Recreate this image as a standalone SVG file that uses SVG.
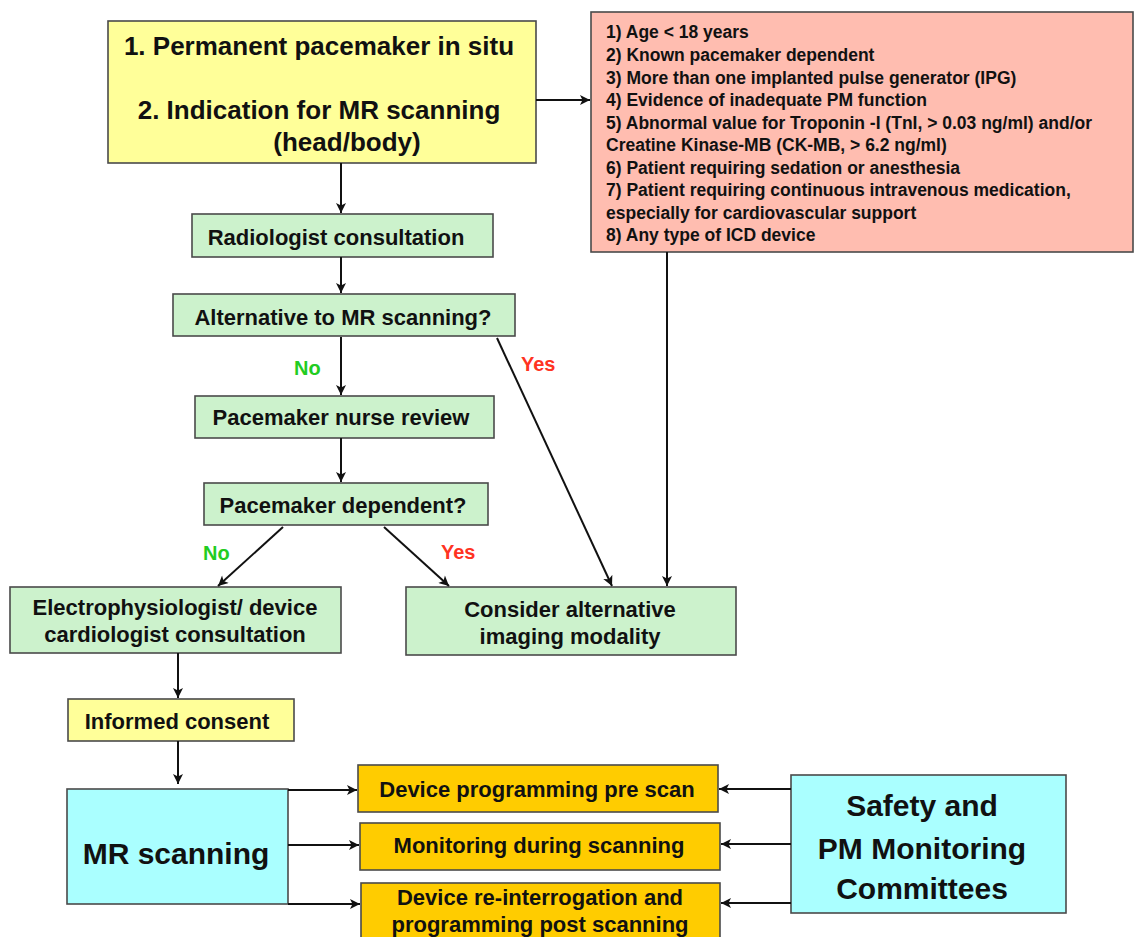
<svg xmlns="http://www.w3.org/2000/svg" width="1134" height="937" viewBox="0 0 1134 937">
<defs>
<marker id="ah" viewBox="0 0 10 10" refX="10" refY="5" markerWidth="11" markerHeight="10" markerUnits="userSpaceOnUse" orient="auto">
<path d="M0,0 L10,5 L0,10 L2.5,5 z" fill="#111"/>
</marker>
</defs>
<style>
.box{stroke:#4a4a4a;stroke-width:1.6}
.y{fill:#ffff99}
.g{fill:#ccf2cc}
.p{fill:#ffbdb0}
.c{fill:#aaffff}
.o{fill:#ffcc00}
text{font-family:"Liberation Sans",Arial,sans-serif;font-weight:bold;fill:#111}
.t25{font-size:26px;text-anchor:middle}
.t21{font-size:22px;text-anchor:middle}
.t30{font-size:30px;text-anchor:middle}
.t15{font-size:17.5px}
.lbl{font-size:20px;font-weight:bold}
.conn line{stroke:#111;stroke-width:2;marker-end:url(#ah)}
</style>
<rect width="1134" height="937" fill="#fff"/>

<g id="n-start">
<rect class="box y" x="108" y="21" width="428" height="142"/>
<text class="t25" x="319" y="55">1. Permanent pacemaker in situ</text>
<text class="t25" x="319" y="119">2. Indication for MR scanning</text>
<text class="t25" x="347" y="151">(head/body)</text>
</g>

<g id="n-contra">
<rect class="box p" x="591" y="12" width="542" height="240"/>
<text class="t15" x="606" y="38">1) Age &lt; 18 years</text>
<text class="t15" x="606" y="61">2) Known pacemaker dependent</text>
<text class="t15" x="606" y="84">3) More than one implanted pulse generator (IPG)</text>
<text class="t15" x="606" y="106">4) Evidence of inadequate PM function</text>
<text class="t15" x="606" y="129">5) Abnormal value for Troponin -I (TnI, &gt; 0.03 ng/ml) and/or</text>
<text class="t15" x="606" y="151">Creatine Kinase-MB (CK-MB, &gt; 6.2 ng/ml)</text>
<text class="t15" x="606" y="174">6) Patient requiring sedation or anesthesia</text>
<text class="t15" x="606" y="196">7) Patient requiring continuous intravenous medication,</text>
<text class="t15" x="606" y="219">especially for cardiovascular support</text>
<text class="t15" x="606" y="241">8) Any type of ICD device</text>
</g>

<g id="n-radiologist">
<rect class="box g" x="192" y="214" width="301" height="43"/>
<text class="t21" x="336" y="245">Radiologist consultation</text>
</g>

<g id="n-alternative">
<rect class="box g" x="173" y="294" width="342" height="42"/>
<text class="t21" x="343" y="325">Alternative to MR scanning?</text>
</g>

<g id="n-nurse">
<rect class="box g" x="195" y="396" width="299" height="42"/>
<text class="t21" x="341" y="425">Pacemaker nurse review</text>
</g>

<g id="n-dependent">
<rect class="box g" x="204" y="483" width="284" height="42"/>
<text class="t21" x="343" y="513">Pacemaker dependent?</text>
</g>

<g id="n-ep">
<rect class="box g" x="10" y="587" width="331" height="66"/>
<text class="t21" x="175" y="615">Electrophysiologist/ device</text>
<text class="t21" x="175" y="642">cardiologist consultation</text>
</g>

<g id="n-consider">
<rect class="box g" x="406" y="587" width="330" height="68"/>
<text class="t21" x="570" y="617">Consider alternative</text>
<text class="t21" x="570" y="644">imaging modality</text>
</g>

<g id="n-consent">
<rect class="box y" x="68" y="699" width="226" height="42"/>
<text class="t21" x="177" y="729">Informed consent</text>
</g>

<g id="n-mr">
<rect class="box c" x="67" y="789" width="221" height="115"/>
<text class="t30" x="176" y="864">MR scanning</text>
</g>

<g id="n-pre">
<rect class="box o" x="358" y="765" width="360" height="47"/>
<text class="t21" x="537" y="797">Device programming pre scan</text>
</g>

<g id="n-during">
<rect class="box o" x="360" y="823" width="360" height="47"/>
<text class="t21" x="539" y="853">Monitoring during scanning</text>
</g>

<g id="n-post">
<rect class="box o" x="361" y="883" width="359" height="60"/>
<text class="t21" x="540" y="905">Device re-interrogation and</text>
<text class="t21" x="540" y="932">programming post scanning</text>
</g>

<g id="n-safety">
<rect class="box c" x="791" y="775" width="275" height="138"/>
<text class="t30" x="922" y="816">Safety and</text>
<text class="t30" x="922" y="859">PM Monitoring</text>
<text class="t30" x="922" y="899">Committees</text>
</g>

<g id="connectors" class="conn">
<line x1="536" y1="100" x2="590" y2="100"/>
<line x1="341" y1="163" x2="341" y2="213"/>
<line x1="341" y1="257" x2="341" y2="293"/>
<line x1="341" y1="337" x2="341" y2="395"/>
<line x1="341" y1="438" x2="341" y2="482"/>
<line x1="497" y1="338" x2="612" y2="586"/>
<line x1="667" y1="252" x2="667" y2="586"/>
<line x1="283" y1="527" x2="218" y2="586"/>
<line x1="384" y1="527" x2="449" y2="586"/>
<line x1="178" y1="653" x2="178" y2="698"/>
<line x1="178" y1="741" x2="178" y2="784"/>
<line x1="288" y1="790" x2="357" y2="790"/>
<line x1="288" y1="845" x2="359" y2="845"/>
<line x1="288" y1="904" x2="360" y2="904"/>
<line x1="791" y1="789" x2="719" y2="789"/>
<line x1="791" y1="844" x2="721" y2="844"/>
<line x1="791" y1="903" x2="721" y2="903"/>
</g>

<g id="labels">
<text class="lbl" x="294" y="375" style="fill:#22cc22">No</text>
<text class="lbl" x="521" y="371" style="fill:#ff3322">Yes</text>
<text class="lbl" x="203" y="560" style="fill:#22cc22">No</text>
<text class="lbl" x="441" y="559" style="fill:#ff3322">Yes</text>
</g>
</svg>
